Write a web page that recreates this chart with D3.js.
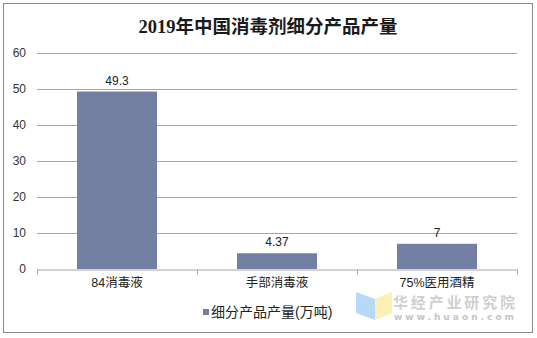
<!DOCTYPE html>
<html><head><meta charset="utf-8">
<script src="https://cdn.jsdelivr.net/npm/d3@7/dist/d3.min.js"></script>
<style>body{margin:0;background:#fff}svg{display:block}</style>
</head><body><svg id="c" width="537" height="338"></svg>
<script>
const categories = ["84消毒液", "手部消毒液", "75%医用酒精"];
const values = [49.3, 4.37, 7];
const valueLabels = ["49.3", "4.37", "7"];
const yTicks = [0, 10, 20, 30, 40, 50, 60];
const title = "2019年中国消毒剂细分产品产量";
const seriesName = "细分产品产量(万吨)";

const svg = d3.select("#c");
const font = "'Liberation Sans', Arial, 'Noto Sans CJK SC', sans-serif";
svg.append("rect").attr("x", 3.5).attr("y", 3.5).attr("width", 529).attr("height", 329)
  .attr("fill", "#fff").attr("stroke", "#8c8c8c").attr("stroke-width", 1);

svg.append("text").attr("x", 268).attr("y", 33).attr("text-anchor", "middle")
  .attr("font-family", "'Liberation Serif', 'Noto Sans CJK SC', serif").attr("font-weight", "bold")
  .attr("font-size", 18.5).attr("fill", "#1a1a1a").text(title);

const x = d3.scaleBand().domain(categories).range([37, 517]).paddingInner(0).paddingOuter(0);
const y = d3.scaleLinear().domain([0, 60]).range([269, 53]);

// grid
svg.append("g").selectAll("line").data(yTicks.filter(d => d > 0)).join("line")
  .attr("x1", 37).attr("x2", 517).attr("y1", d => Math.round(y(d)) + 0.5).attr("y2", d => Math.round(y(d)) + 0.5)
  .attr("stroke", "#a6a6a6");

// y labels
const yAxis = d3.axisLeft(y).tickValues(yTicks).tickSize(0).tickPadding(0);
const gy = svg.append("g").attr("transform", "translate(26,0)").call(yAxis);
gy.select(".domain").remove();
gy.selectAll("text").attr("font-family", font).attr("font-size", 12).attr("fill", "#333").attr("text-anchor", "end");

// bars
const bw = 80;
svg.append("g").selectAll("rect").data(values).join("rect")
  .attr("x", (d, i) => x(categories[i]) + (x.bandwidth() - bw) / 2)
  .attr("width", bw)
  .attr("y", d => y(d)).attr("height", d => y(0) - y(d))
  .attr("fill", "#737fa3");

svg.append("g").selectAll("text").data(values).join("text")
  .attr("x", (d, i) => x(categories[i]) + x.bandwidth() / 2)
  .attr("y", d => y(d) - 7)
  .attr("text-anchor", "middle").attr("font-family", font).attr("font-size", 12).attr("fill", "#222")
  .text((d, i) => valueLabels[i]);

// x axis
const xAxis = d3.axisBottom(x).tickSize(0).tickPadding(0);
const gx = svg.append("g").attr("transform", "translate(0,269.5)").call(xAxis);
gx.select(".domain").attr("stroke", "#a6a6a6");
gx.selectAll("text").attr("font-family", font).attr("font-size", 12.5).attr("fill", "#222").attr("dy", "1.4em");
const edges = [37, 197, 357, 517];
gx.selectAll(".edge").data(edges).join("line").attr("class", "edge")
  .attr("x1", d => d + 0.5).attr("x2", d => d + 0.5).attr("y1", 0).attr("y2", 5).attr("stroke", "#a6a6a6");

// watermark
const wm = svg.append("g");
wm.append("polygon").attr("points", "356,292 375,299 375,320 356,313").attr("fill", "#b9d7f7");
wm.append("polygon").attr("points", "375,299 392,292 392,313 375,320").attr("fill", "#fcf0b4");
wm.append("text").attr("x", 393).attr("y", 308).attr("font-family", "'Noto Sans CJK SC', sans-serif")
  .attr("font-weight", "bold").attr("font-size", 15).attr("fill", "#cfcfcf").attr("textLength", 122).text("华经产业研究院");
wm.append("text").attr("x", 394).attr("y", 320).attr("font-family", "'DejaVu Sans', sans-serif")
  .attr("font-weight", "bold").attr("font-size", 9).attr("fill", "#c4c4c4").attr("textLength", 120).text("www.huaon.com");

// legend
svg.append("rect").attr("x", 203).attr("y", 309).attr("width", 6).attr("height", 6).attr("fill", "#737fa3");
svg.append("text").attr("x", 211).attr("y", 317).attr("font-family", font).attr("font-size", 14).attr("fill", "#222").text(seriesName);
</script></body></html>
